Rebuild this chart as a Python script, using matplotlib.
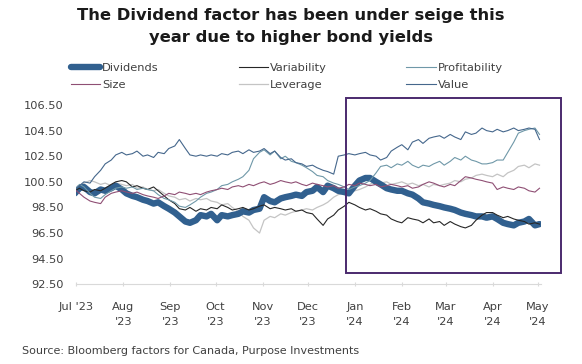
import matplotlib
matplotlib.use("Agg")
import matplotlib.pyplot as plt
import matplotlib.dates as mdates
from matplotlib.patches import Rectangle
import pandas as pd

# twice-weekly observations (Mon/Thu) from Jul 2023 to May 2024
dates = pd.DatetimeIndex([pd.Timestamp("2023-06-30")]).union(
    pd.date_range("2023-07-03", "2024-05-02", freq="W-MON")).union(
    pd.date_range("2023-07-03", "2024-05-02", freq="W-THU"))

dividends = [99.6,
    100.0, 100.1, 99.7, 99.6, 99.9, 99.8, 100.0, 100.2, 99.9,
    99.6, 99.4, 99.3, 99.1, 99.0, 98.8, 98.9, 98.6, 98.4,
    98.1, 97.8, 97.4, 97.3, 97.5, 97.9, 97.8, 98.0,
    97.5, 97.9, 97.8, 97.9, 98.0, 98.2, 98.1, 98.3, 98.4,
    99.3, 99.0, 98.9, 99.2, 99.3, 99.4, 99.5, 99.4, 99.7,
    99.8, 100.1, 99.7, 100.2, 100.0, 99.8, 99.7, 99.6,
    100.2, 100.6, 100.8, 100.8, 100.5, 100.3, 100.0, 99.9, 99.8,
    99.8, 99.6, 99.5, 99.2, 98.9, 98.8, 98.7, 98.6, 98.5,
    98.4, 98.3, 98.1, 98.0, 97.9, 97.8, 97.8, 97.7,
    97.8, 97.6, 97.3, 97.2, 97.1, 97.3, 97.4, 97.6, 97.1,
    97.2]
variability = [99.8,
    100.0, 99.8, 99.7, 99.9, 99.8, 100.0, 100.3, 100.5, 100.6,
    100.5, 100.1, 100.2, 100.0, 99.9, 100.1, 99.8, 99.4, 99.1,
    98.8, 98.4, 98.3, 98.5, 98.2, 98.4, 98.3, 98.5,
    98.4, 98.7, 98.5, 98.3, 98.4, 98.5, 98.3, 98.4, 98.6,
    98.7, 98.4, 98.5, 98.4, 98.3, 98.4, 98.2, 98.3, 98.1,
    98.0, 97.6, 97.1, 97.6, 97.9, 98.3, 98.6, 98.9,
    98.7, 98.5, 98.3, 98.4, 98.2, 98.0, 97.9, 97.6, 97.4,
    97.3, 97.7, 97.6, 97.5, 97.3, 97.6, 97.3, 97.4, 97.1,
    97.4, 97.2, 97.0, 96.9, 97.1, 97.5, 97.9, 98.1,
    98.1, 97.9, 97.7, 97.8, 97.6, 97.5, 97.4, 97.2, 97.3,
    97.2]
profitability = [99.9,
    100.3, 100.1, 99.6, 99.3, 99.2, 99.5, 99.8, 100.0, 100.1,
    100.0, 100.1, 99.9, 100.0, 99.9, 99.8, 99.5, 99.2, 99.1,
    98.9, 98.6, 98.5, 98.7, 99.0, 99.3, 99.6, 99.7,
    99.9, 100.2, 100.3, 100.5, 100.7, 100.9, 101.4, 102.3, 102.8,
    103.0, 102.6, 102.9, 102.3, 102.5, 102.1, 102.0, 101.8, 101.6,
    101.3, 101.0, 100.9, 100.6, 100.4, 100.3, 100.1, 99.9,
    100.1, 100.2, 100.4, 100.6, 101.2, 101.7, 101.8, 101.6, 101.9,
    101.8, 102.1, 101.8, 101.6, 101.8, 101.7, 101.9, 102.1, 101.8,
    102.1, 102.4, 102.2, 102.5, 102.2, 102.1, 101.9, 101.9,
    102.0, 102.2, 102.2, 102.8, 103.6, 104.3, 104.5, 104.6, 104.7,
    104.2]
size = [99.9,
    99.6, 99.3, 99.0, 98.9, 98.8, 99.3, 99.6, 99.7, 99.8,
    99.7, 99.6, 99.7, 99.5, 99.4, 99.3, 99.2, 99.4, 99.6,
    99.5, 99.7, 99.6, 99.5, 99.6, 99.5, 99.7, 99.8,
    99.9, 100.0, 99.9, 100.1, 100.2, 100.1, 100.3, 100.2, 100.4,
    100.5, 100.3, 100.4, 100.6, 100.5, 100.4, 100.5, 100.3, 100.2,
    100.4, 100.3, 100.2, 100.1, 100.2, 100.0, 100.1, 100.3,
    100.2, 100.4, 100.3, 100.2, 100.3, 100.1, 100.2, 100.3, 100.2,
    100.1, 100.2, 100.0, 100.1, 100.3, 100.5, 100.4, 100.2, 100.1,
    100.3, 100.2, 100.6, 100.9, 100.8, 100.7, 100.6, 100.5,
    100.4, 99.9, 100.1, 100.0, 99.9, 100.1, 100.0, 99.8, 99.7,
    100.0]
leverage = [99.9,
    100.2, 100.4, 100.6, 100.5, 100.3, 100.4, 100.2, 100.4, 100.3,
    100.2, 100.3, 100.0, 100.1, 99.9, 99.8, 99.9, 99.6, 99.4,
    99.3, 99.1, 99.2, 99.0, 99.2, 99.1, 99.2, 99.0,
    98.9, 98.7, 98.8, 98.5, 98.2, 97.8, 97.5, 96.9, 96.5,
    97.5, 97.8, 97.7, 98.0, 97.9, 98.1, 98.2, 98.3, 98.4,
    98.3, 98.5, 98.7, 98.9, 99.3, 99.5, 99.6, 99.7,
    99.8, 99.9, 100.1, 100.3, 100.6, 100.4, 100.5, 100.3, 100.4,
    100.5, 100.3, 100.4, 100.2, 100.3, 100.1, 100.3, 100.2, 100.3,
    100.4, 100.6, 100.5, 100.7, 100.8, 101.0, 101.1, 101.0,
    100.9, 101.1, 100.9, 101.2, 101.4, 101.7, 101.8, 101.6, 101.9,
    101.8]
value = [99.9,
    100.2, 100.5, 100.4, 100.9, 101.4, 101.9, 102.2, 102.6, 102.8,
    102.6, 102.7, 102.9, 102.5, 102.6, 102.4, 102.8, 102.7, 103.1,
    103.3, 103.8, 103.1, 102.6, 102.5, 102.6, 102.5, 102.6,
    102.5, 102.7, 102.6, 102.8, 102.9, 102.7, 103.0, 102.8, 102.9,
    103.1, 102.7, 102.9, 102.4, 102.2, 102.3, 102.0, 101.9, 101.7,
    101.8, 101.6, 101.4, 101.3, 101.1, 102.5, 102.6, 102.7,
    102.6, 102.7, 102.8, 102.6, 102.5, 102.2, 102.4, 102.9, 103.2,
    103.4, 103.0, 103.6, 103.8, 103.5, 103.9, 104.0, 104.1, 103.9,
    104.2, 104.0, 103.8, 104.4, 104.2, 104.3, 104.7, 104.5,
    104.4, 104.6, 104.4, 104.5, 104.7, 104.5, 104.6, 104.7, 104.6,
    103.8]

months = pd.date_range("2023-07-01", "2024-05-01", freq="MS")
month_labels = ["Jul '23"] + [m.strftime("%b\n'%y") for m in months[1:]]
y_ticks = [92.5, 94.5, 96.5, 98.5, 100.5, 102.5, 104.5, 106.5]

plt.rcParams["font.family"] = "DejaVu Sans"
fig = plt.figure(figsize=(5.82, 3.64), dpi=100)
ax = fig.add_axes([0.1313, 0.219, 0.7983, 0.4926])

l_div, = ax.plot(dates, dividends, color="#31608f", lw=4.6, solid_capstyle="round",
                 solid_joinstyle="round", label="Dividends", zorder=2)
l_var, = ax.plot(dates, variability, color="#262626", lw=0.8, label="Variability", zorder=3)
l_pro, = ax.plot(dates, profitability, color="#6f98a8", lw=0.8, label="Profitability", zorder=3)
l_siz, = ax.plot(dates, size, color="#8f4f74", lw=0.8, label="Size", zorder=3)
l_lev, = ax.plot(dates, leverage, color="#c4c4c4", lw=0.9, label="Leverage", zorder=1)
l_val, = ax.plot(dates, value, color="#45678c", lw=0.8, label="Value", zorder=3)

ax.set_xlim(pd.Timestamp("2023-07-01"), pd.Timestamp("2024-05-03"))
ax.set_ylim(92.5, 106.5)
ax.set_yticks(y_ticks)
ax.set_yticklabels([f"{t:.2f}" for t in y_ticks])
ax.set_xticks(months)
ax.set_xticklabels(month_labels, linespacing=1.65)

for s in ["top", "right", "left"]:
    ax.spines[s].set_visible(False)
ax.spines["bottom"].set_color("#d9d9d9")
ax.tick_params(axis="y", length=0, pad=9, labelsize=8.2, labelcolor="#404040")
ax.tick_params(axis="x", length=3, direction="inout", color="#d9d9d9", pad=11,
               labelsize=8.2, labelcolor="#404040")

# highlight box around 2024
x0 = mdates.date2num(pd.Timestamp("2023-12-26"))
x1 = mdates.date2num(pd.Timestamp("2024-05-16"))
ax.add_patch(Rectangle((x0, 93.4), x1 - x0, 13.62, fill=False, edgecolor="#4b2a6e",
                       lw=1.4, clip_on=False, zorder=5))

fig.text(0.5, 0.978, "The Dividend factor has been under seige this\nyear due to higher bond yields",
         ha="center", va="top", fontsize=11.8, fontweight="bold", color="#1a1a1a", linespacing=1.6)

fig.legend([l_div, l_siz, l_var, l_lev, l_pro, l_val],
           ["Dividends", "Size", "Variability", "Leverage", "Profitability", "Value"],
           ncol=3, loc="upper left", bbox_to_anchor=(0.112, 0.842), frameon=False,
           fontsize=8.2, handlelength=2.6, handletextpad=0.15, columnspacing=7.0,
           labelspacing=0.6, borderpad=0, labelcolor="#404040")

fig.text(22 / 582, 1 - 351 / 364, "Source: Bloomberg factors for Canada, Purpose Investments",
         ha="left", va="center", fontsize=8, color="#404040")

fig.savefig("out.png", dpi=100)
